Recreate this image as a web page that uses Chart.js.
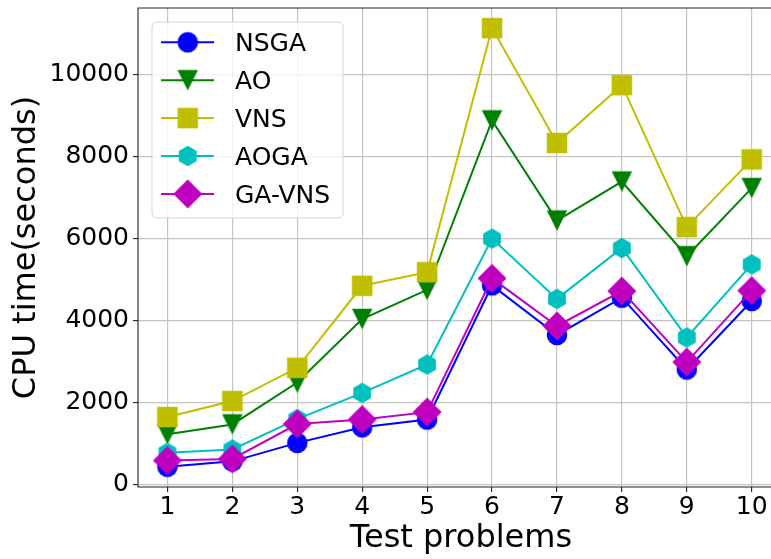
<!DOCTYPE html>
<html>
<head>
<meta charset="utf-8">
<script src="https://cdn.jsdelivr.net/npm/chart.js@4.4.1/dist/chart.umd.min.js"></script>
<style>
  html, body { margin: 0; padding: 0; background: #fff; }
  #chart { display: block; }
</style>
</head>
<body>
<canvas id="chart" width="771" height="559"></canvas>
<script>
// Data
const problems = [1, 2, 3, 4, 5, 6, 7, 8, 9, 10];
const nsga   = [440, 570, 1020, 1400, 1590, 4860, 3650, 4560, 2810, 4480];
const ao     = [1230, 1470, 2490, 4040, 4750, 8880, 6440, 7390, 5570, 7230];
const vns    = [1650, 2040, 2850, 4850, 5180, 11130, 8330, 9740, 6280, 7930];
const aoga   = [780, 860, 1600, 2240, 2930, 6000, 4530, 5770, 3590, 5370];
const gaVns  = [590, 630, 1480, 1590, 1770, 5030, 3870, 4720, 2990, 4730];
const yTicks = [0, 2000, 4000, 6000, 8000, 10000];

const FONT = "'DejaVu Sans', sans-serif";
Chart.defaults.font.family = FONT;
Chart.defaults.color = '#000';

// matplotlib-like marker images (markersize ~20px)
const MS = 20.5;
function makeMarker(kind, color) {
    const c = document.createElement('canvas');
    c.width = 32; c.height = 32;
    const g = c.getContext('2d');
    const m = 16, h = MS / 2;
    g.fillStyle = color;
    g.beginPath();
    if (kind === 'circle') {
        g.arc(m, m, h, 0, Math.PI * 2);
    } else if (kind === 'square') {
        g.rect(m - h, m - h, MS, MS);
    } else if (kind === 'tridown') {
        g.moveTo(m, m + h);
        g.lineTo(m - h, m - h);
        g.lineTo(m + h, m - h);
    } else if (kind === 'hexagon') {
        for (let i = 0; i < 6; i++) {
            const a = -Math.PI / 2 + i * Math.PI / 3;
            const px = m + Math.cos(a) * h, py = m + Math.sin(a) * h;
            if (i === 0) g.moveTo(px, py); else g.lineTo(px, py);
        }
    } else if (kind === 'diamond') {
        const d = h * Math.SQRT2;
        g.moveTo(m, m - d);
        g.lineTo(m + d, m);
        g.lineTo(m, m + d);
        g.lineTo(m - d, m);
    }
    g.closePath();
    g.fill();
    return c;
}

const series = [
    { label: 'NSGA',   data: nsga,  color: '#0000ff', marker: 'circle' },
    { label: 'AO',     data: ao,    color: '#008000', marker: 'tridown' },
    { label: 'VNS',    data: vns,   color: '#bfbf00', marker: 'square' },
    { label: 'AOGA',   data: aoga,  color: '#00bfbf', marker: 'hexagon' },
    { label: 'GA-VNS', data: gaVns, color: '#bf00bf', marker: 'diamond' }
];

const datasets = series.map((s, i) => ({
    label: s.label,
    data: problems.map((p, k) => ({ x: p, y: s.data[k] })),
    borderColor: s.color,
    backgroundColor: s.color,
    borderWidth: 2,
    pointStyle: makeMarker(s.marker, s.color),
    pointRadius: 10,
    tension: 0,
    order: series.length - i,
    clip: false
}));

// spines (left, top, bottom), x title and the in-plot legend
const framePlugin = {
    id: 'frame',
    afterDatasetsDraw(chart) {
        const { ctx, chartArea: a } = chart;
        ctx.save();
        ctx.strokeStyle = '#222';
        ctx.lineWidth = 1.1;
        ctx.beginPath();
        ctx.moveTo(chart.width + 5, a.top);
        ctx.lineTo(a.left, a.top);
        ctx.lineTo(a.left, a.bottom);
        ctx.lineTo(chart.width + 5, a.bottom);
        ctx.stroke();

        // x axis title, centred on the full (cropped) axes width
        ctx.fillStyle = '#000';
        ctx.font = '32px ' + FONT;
        ctx.textAlign = 'center';
        ctx.textBaseline = 'alphabetic';
        ctx.fillText('Test problems', 461, 547);

        // legend box
        const bx = 152, by = 22, bw = 191, bh = 196, r = 5;
        ctx.beginPath();
        ctx.roundRect(bx, by, bw, bh, r);
        ctx.fillStyle = 'rgba(255,255,255,0.8)';
        ctx.fill();
        ctx.strokeStyle = 'rgba(204,204,204,0.8)';
        ctx.lineWidth = 1;
        ctx.stroke();

        ctx.font = '25px ' + FONT;
        ctx.textAlign = 'left';
        chart.data.datasets.forEach((ds, i) => {
            const y = 42.3 + i * 37.9;
            ctx.strokeStyle = ds.borderColor;
            ctx.lineWidth = 2;
            ctx.beginPath();
            ctx.moveTo(161, y);
            ctx.lineTo(214, y);
            ctx.stroke();
            const img = ds.pointStyle;
            ctx.drawImage(img, 187.7 - img.width / 2, y - img.height / 2);
            ctx.fillStyle = '#000';
            ctx.fillText(ds.label, 235, y + 9.1);
        });
        ctx.restore();
    }
};

new Chart(document.getElementById('chart'), {
    type: 'line',
    data: { datasets },
    options: {
        responsive: false,
        animation: false,
        devicePixelRatio: 1,
        layout: { autoPadding: false, padding: { top: 8, right: 0, left: 0, bottom: 0 } },
        plugins: {
            legend: { display: false },
            tooltip: { enabled: false }
        },
        scales: {
            x: {
                type: 'linear',
                min: 0.547,
                max: 10.297,
                afterBuildTicks: (scale) => { scale.ticks = problems.map(v => ({ value: v })); },
                afterFit: (scale) => {
                    scale.height = 72;
                    scale.paddingLeft = 0;
                    scale.paddingRight = 0;
                },
                grid: { color: '#c4c4c4', lineWidth: 1.2, tickColor: '#222', tickLength: 5, tickWidth: 1.1 },
                border: { display: false },
                ticks: { font: { size: 25 }, padding: 0, maxRotation: 0, autoSkip: false },
                title: { display: false }
            },
            y: {
                min: -55,
                max: 11620,
                afterBuildTicks: (scale) => { scale.ticks = yTicks.map(v => ({ value: v })); },
                afterFit: (scale) => {
                    scale.width = 138;
                    scale.paddingTop = 0;
                    scale.paddingBottom = 0;
                },
                grid: { color: '#c4c4c4', lineWidth: 1.2, tickColor: '#222', tickLength: 5, tickWidth: 1.1 },
                border: { display: false },
                ticks: { font: { size: 25 }, padding: 4, callback: (v) => String(v) },
                title: { display: true, text: 'CPU time(seconds)', font: { size: 32 }, padding: { top: 7, bottom: 0 } }
            }
        }
    },
    plugins: [framePlugin]
});
</script>
</body>
</html>
